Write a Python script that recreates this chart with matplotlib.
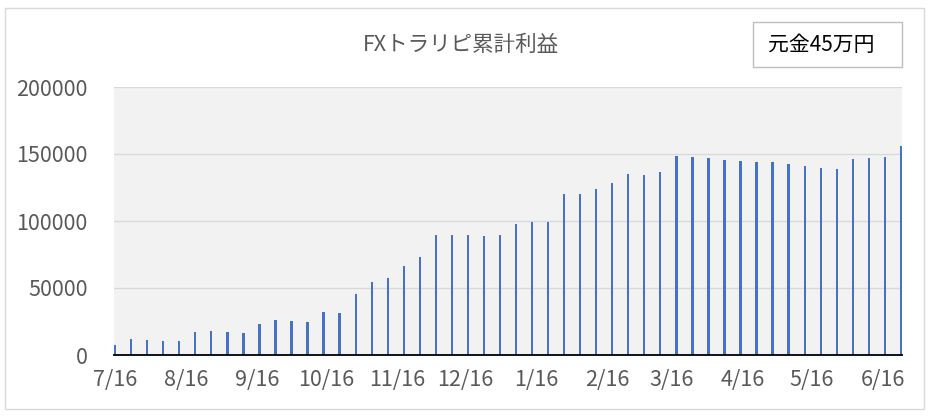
import datetime as dt
import matplotlib
matplotlib.use("Agg")
import matplotlib.pyplot as plt
import matplotlib.dates as mdates
from matplotlib.patches import Rectangle

plt.rcParams['font.family'] = ['Noto Sans CJK JP', 'DejaVu Sans']

# Data: weekly cumulative profit (yen), starting 7/16
START = dt.date(2017, 7, 16)
profit = [7500, 12000, 11200, 10500, 10500, 17200, 17900, 17200, 16400, 23200,
          26200, 25400, 24700, 32100, 31400, 45600, 54500, 57500, 66500, 73200,
          89700, 89700, 89700, 88900, 89700, 97900, 99400, 99400, 120300, 120300,
          124000, 128500, 135200, 134500, 136700, 148700, 148000, 147200, 145700, 145000,
          144200, 144200, 142700, 141200, 139700, 139000, 146500, 147200, 148000, 156200]
dates = [START + dt.timedelta(days=7 * i) for i in range(len(profit))]
tick_dates = [dt.date(2017, 7, 16), dt.date(2017, 8, 16), dt.date(2017, 9, 16),
              dt.date(2017, 10, 16), dt.date(2017, 11, 16), dt.date(2017, 12, 16),
              dt.date(2018, 1, 16), dt.date(2018, 2, 16), dt.date(2018, 3, 16),
              dt.date(2018, 4, 16), dt.date(2018, 5, 16), dt.date(2018, 6, 16)]
tick_labels = ['7/16', '8/16', '9/16', '10/16', '11/16', '12/16',
               '1/16', '2/16', '3/16', '4/16', '5/16', '6/16']
yticks = [0, 50000, 100000, 150000, 200000]

TITLE = 'FXトラリピ累計利益'
NOTE = '元金45万円'

W, H = 929, 418
fig = plt.figure(figsize=(W / 100, H / 100), dpi=100)
fig.patch.set_facecolor('white')

# outer border
fig.add_artist(Rectangle((5 / W, 1 - 409 / H), 919 / W, 401 / H, transform=fig.transFigure,
                         fill=False, edgecolor='#D9D9D9', linewidth=1))

ax = fig.add_axes([114 / W, 1 - 355 / H, (902 - 114) / W, (355 - 87) / H])
ax.set_facecolor('#F2F2F2')
ax.bar(dates, profit, width=1.0, color='#4472C4', zorder=3)

ax.set_xlim(mdates.date2num(dates[0]) - 0.5, mdates.date2num(dates[-1]) + 0.5)
ax.set_ylim(0, 200000)
ax.set_yticks(yticks)
ax.set_yticklabels([str(v) for v in yticks])
ax.set_xticks([mdates.date2num(d) for d in tick_dates])
ax.set_xticklabels(tick_labels)
ax.yaxis.grid(True, color='#D9D9D9', linewidth=1, zorder=0)
ax.tick_params(axis='both', length=0, labelsize=15.5, labelcolor='#595959')
ax.tick_params(axis='x', pad=10)
ax.tick_params(axis='y', pad=19)
for s in ['top', 'right', 'left']:
    ax.spines[s].set_visible(False)
ax.spines['bottom'].set_color('black')
ax.spines['bottom'].set_linewidth(1.3)
ax.spines['bottom'].set_zorder(4)

fig.text(461 / W, 1 - 45 / H, TITLE, ha='center', va='center', fontsize=15.5, color='#595959')

# principal box
fig.add_artist(Rectangle((753 / W, 1 - 67 / H), 149 / W, 45 / H, transform=fig.transFigure,
                         facecolor='white', edgecolor='#BFBFBF', linewidth=1))
fig.text(821 / W, 1 - 45 / H, NOTE, ha='center', va='center', fontsize=15, color='black')

fig.savefig('out.png', dpi=100)
